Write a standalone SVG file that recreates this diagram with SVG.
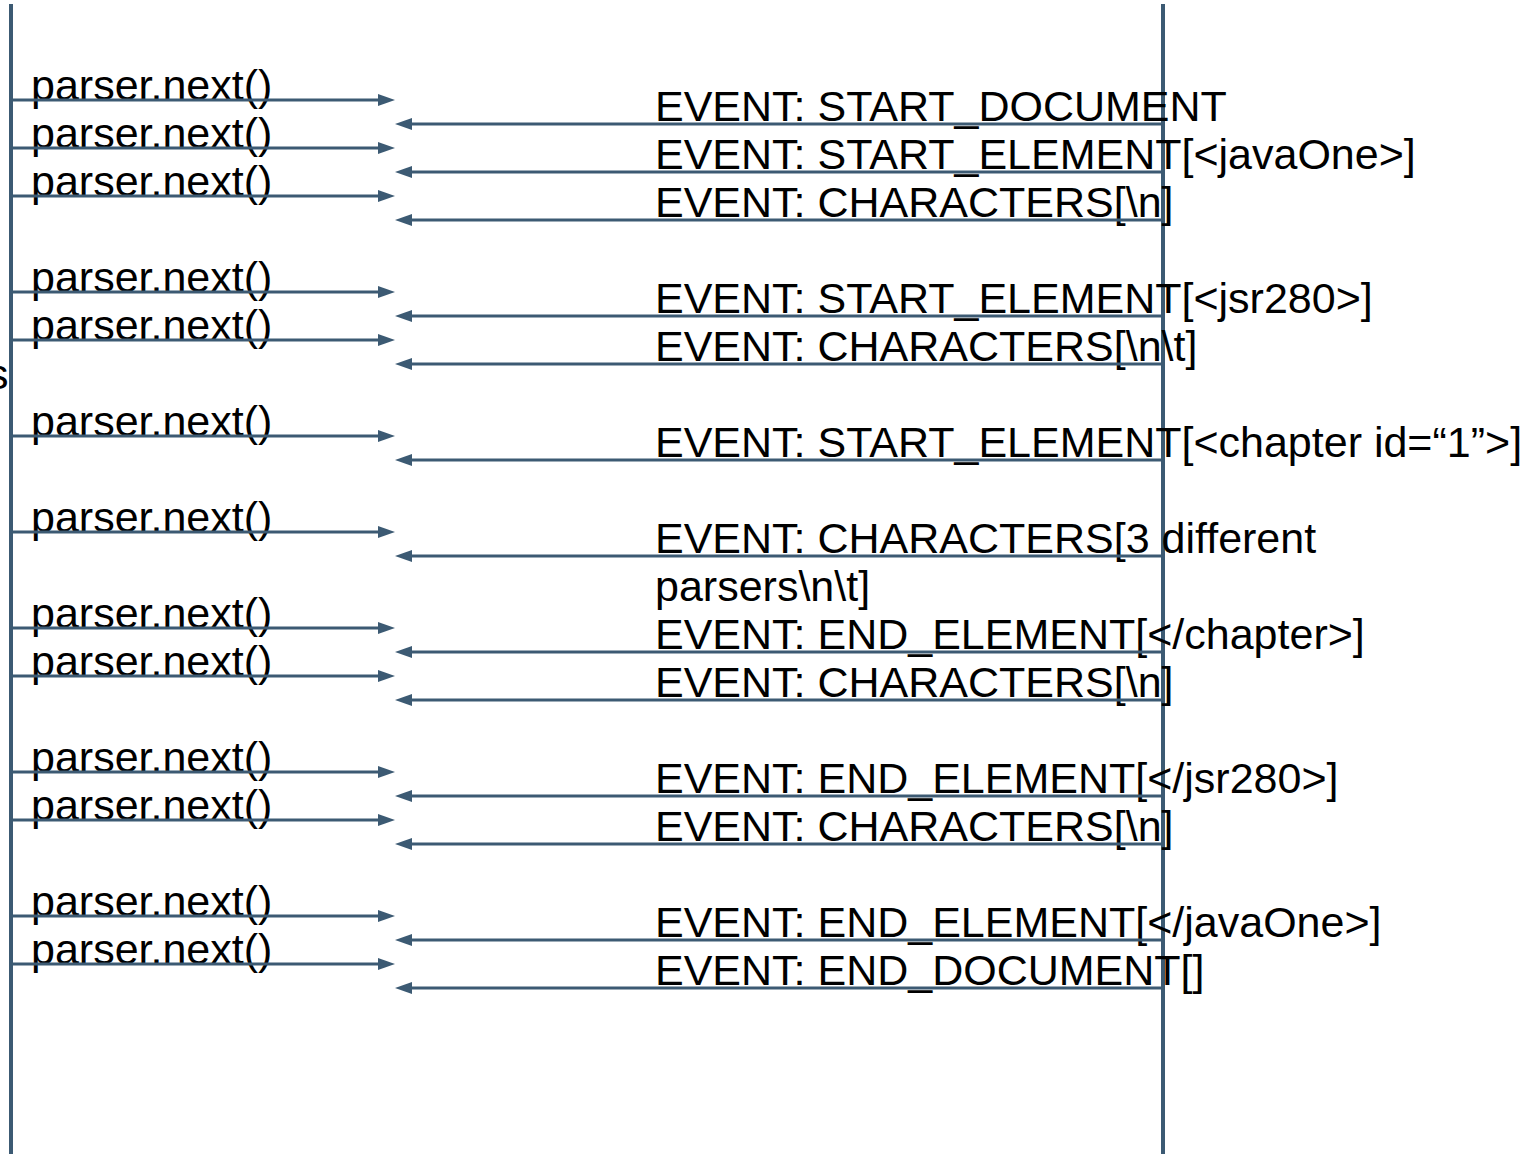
<svg xmlns="http://www.w3.org/2000/svg" width="1528" height="1154" viewBox="0 0 1528 1154">
<style>
.t{font-family:"Liberation Sans",Arial,sans-serif;font-size:43px;fill:#000}
.l{stroke:#3C5A73;stroke-width:3;fill:none}
.v{stroke:#3C5A73;stroke-width:4;fill:none}
</style>
<defs>
<marker id="ah" markerUnits="userSpaceOnUse" markerWidth="17" markerHeight="12" refX="0" refY="6" orient="auto" viewBox="0 0 17 12">
<path d="M0,0 L17,6 L0,12 z" fill="#3C5A73"/>
</marker>
</defs>
<g id="lifelines">
<line class="v" x1="11" y1="4" x2="11" y2="1154"/>
<line class="v" x1="1163" y1="4" x2="1163" y2="1154"/>
</g>
<g id="labels-left">
<text class="t" x="-13" y="389">s</text>
<text class="t" x="31" y="100">parser.next()</text>
<text class="t" x="31" y="148">parser.next()</text>
<text class="t" x="31" y="196">parser.next()</text>
<text class="t" x="31" y="292">parser.next()</text>
<text class="t" x="31" y="340">parser.next()</text>
<text class="t" x="31" y="436">parser.next()</text>
<text class="t" x="31" y="532">parser.next()</text>
<text class="t" x="31" y="628">parser.next()</text>
<text class="t" x="31" y="676">parser.next()</text>
<text class="t" x="31" y="772">parser.next()</text>
<text class="t" x="31" y="820">parser.next()</text>
<text class="t" x="31" y="916">parser.next()</text>
<text class="t" x="31" y="964">parser.next()</text>
</g>
<g id="labels-right">
<text class="t" x="655" y="121">EVENT: START_DOCUMENT</text>
<text class="t" x="655" y="169">EVENT: START_ELEMENT[&lt;javaOne&gt;]</text>
<text class="t" x="655" y="217">EVENT: CHARACTERS[\n]</text>
<text class="t" x="655" y="313">EVENT: START_ELEMENT[&lt;jsr280&gt;]</text>
<text class="t" x="655" y="361">EVENT: CHARACTERS[\n\t]</text>
<text class="t" x="655" y="457">EVENT: START_ELEMENT[&lt;chapter id=“1”&gt;]</text>
<text class="t" x="655" y="553">EVENT: CHARACTERS[3 different</text>
<text class="t" x="655" y="601">parsers\n\t]</text>
<text class="t" x="655" y="649">EVENT: END_ELEMENT[&lt;/chapter&gt;]</text>
<text class="t" x="655" y="697">EVENT: CHARACTERS[\n]</text>
<text class="t" x="655" y="793">EVENT: END_ELEMENT[&lt;/jsr280&gt;]</text>
<text class="t" x="655" y="841">EVENT: CHARACTERS[\n]</text>
<text class="t" x="655" y="937">EVENT: END_ELEMENT[&lt;/javaOne&gt;]</text>
<text class="t" x="655" y="985">EVENT: END_DOCUMENT[]</text>
</g>
<g id="connectors">
<line class="l" x1="11" y1="100" x2="378" y2="100" marker-end="url(#ah)"/>
<line class="l" x1="11" y1="148" x2="378" y2="148" marker-end="url(#ah)"/>
<line class="l" x1="11" y1="196" x2="378" y2="196" marker-end="url(#ah)"/>
<line class="l" x1="11" y1="292" x2="378" y2="292" marker-end="url(#ah)"/>
<line class="l" x1="11" y1="340" x2="378" y2="340" marker-end="url(#ah)"/>
<line class="l" x1="11" y1="436" x2="378" y2="436" marker-end="url(#ah)"/>
<line class="l" x1="11" y1="532" x2="378" y2="532" marker-end="url(#ah)"/>
<line class="l" x1="11" y1="628" x2="378" y2="628" marker-end="url(#ah)"/>
<line class="l" x1="11" y1="676" x2="378" y2="676" marker-end="url(#ah)"/>
<line class="l" x1="11" y1="772" x2="378" y2="772" marker-end="url(#ah)"/>
<line class="l" x1="11" y1="820" x2="378" y2="820" marker-end="url(#ah)"/>
<line class="l" x1="11" y1="916" x2="378" y2="916" marker-end="url(#ah)"/>
<line class="l" x1="11" y1="964" x2="378" y2="964" marker-end="url(#ah)"/>
<line class="l" x1="1163" y1="124" x2="412" y2="124" marker-end="url(#ah)"/>
<line class="l" x1="1163" y1="172" x2="412" y2="172" marker-end="url(#ah)"/>
<line class="l" x1="1163" y1="220" x2="412" y2="220" marker-end="url(#ah)"/>
<line class="l" x1="1163" y1="316" x2="412" y2="316" marker-end="url(#ah)"/>
<line class="l" x1="1163" y1="364" x2="412" y2="364" marker-end="url(#ah)"/>
<line class="l" x1="1163" y1="460" x2="412" y2="460" marker-end="url(#ah)"/>
<line class="l" x1="1163" y1="556" x2="412" y2="556" marker-end="url(#ah)"/>
<line class="l" x1="1163" y1="652" x2="412" y2="652" marker-end="url(#ah)"/>
<line class="l" x1="1163" y1="700" x2="412" y2="700" marker-end="url(#ah)"/>
<line class="l" x1="1163" y1="796" x2="412" y2="796" marker-end="url(#ah)"/>
<line class="l" x1="1163" y1="844" x2="412" y2="844" marker-end="url(#ah)"/>
<line class="l" x1="1163" y1="940" x2="412" y2="940" marker-end="url(#ah)"/>
<line class="l" x1="1163" y1="988" x2="412" y2="988" marker-end="url(#ah)"/>
</g>
</svg>
